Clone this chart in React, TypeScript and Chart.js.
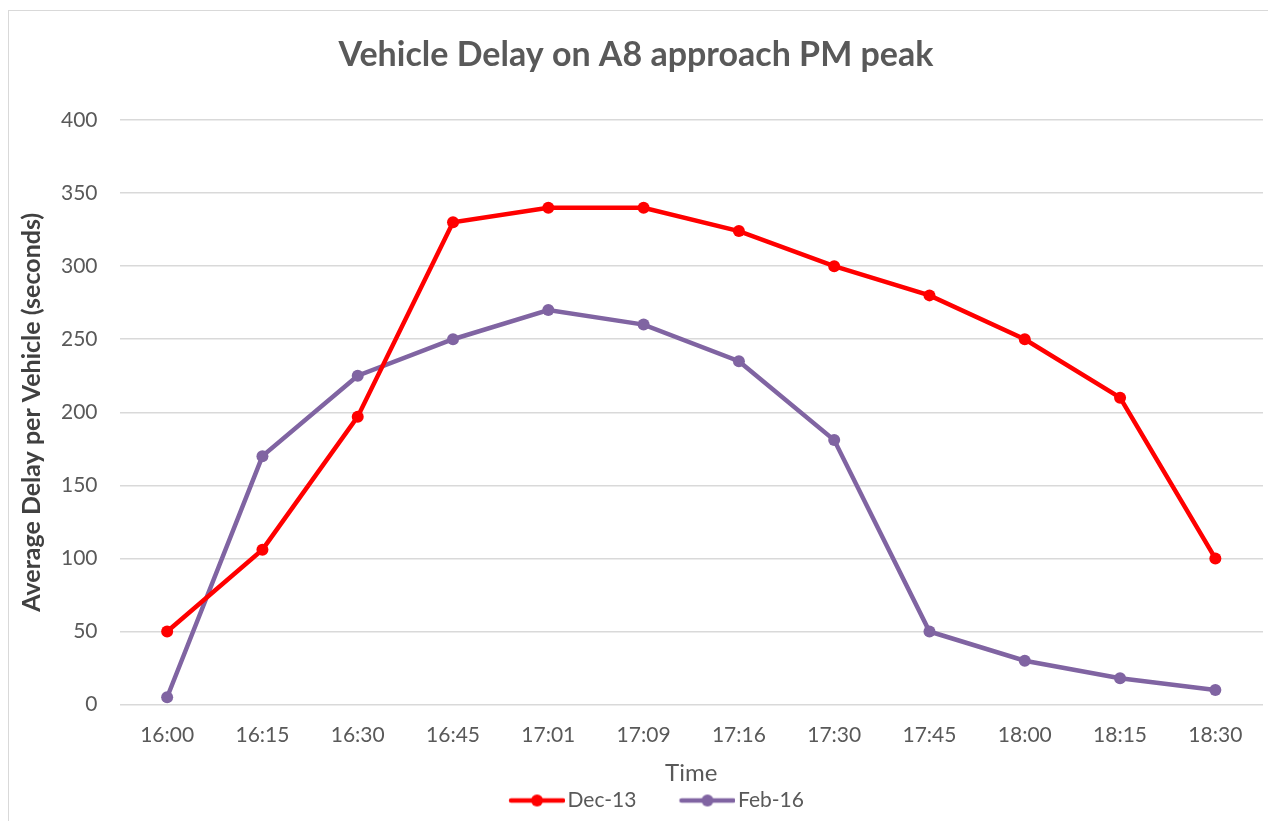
import { useEffect, useRef } from "react";
import { Chart, registerables } from "chart.js";

Chart.register(...registerables);

const categories = ["16:00", "16:15", "16:30", "16:45", "17:01", "17:09", "17:16", "17:30", "17:45", "18:00", "18:15", "18:30"];
const dec13 = [50, 106, 197, 330, 340, 340, 324, 300, 280, 250, 210, 100];
const feb16 = [5, 170, 225, 250, 270, 260, 235, 181, 50, 30, 18, 10];
const seriesNames = ["Dec-13", "Feb-16"];
const seriesColors = ["#FF0000", "#8064A2"];
const yMin = 0;
const yMax = 400;
const yStep = 50;

const FONT = "Lato, 'Open Sans', sans-serif";
const GREY = "#595959";

function makeLegendIcon(color: string, gapLeft: number): HTMLCanvasElement {
  const w = 56 + gapLeft;
  const h = 14;
  const c = document.createElement("canvas");
  c.width = w;
  c.height = h;
  const ctx = c.getContext("2d")!;
  ctx.strokeStyle = color;
  ctx.fillStyle = color;
  ctx.lineWidth = 4.5;
  ctx.lineCap = "round";
  ctx.beginPath();
  ctx.moveTo(gapLeft + 2, 7);
  ctx.lineTo(w - 2, 7);
  ctx.stroke();
  ctx.beginPath();
  ctx.arc(gapLeft + 28, 7, 6, 0, Math.PI * 2);
  ctx.fill();
  return c;
}

export default function App() {
  const ref = useRef<HTMLCanvasElement | null>(null);

  useEffect(() => {
    if (!ref.current) return;
    const gapLeft = 49;
    const icons = seriesColors.map((c) => makeLegendIcon(c, gapLeft));
    const chart = new Chart(ref.current, {
      type: "line",
      data: {
        labels: categories,
        datasets: [dec13, feb16].map((d, i) => ({
          label: seriesNames[i],
          data: d,
          borderColor: seriesColors[i],
          backgroundColor: seriesColors[i],
          borderWidth: 4.5,
          pointRadius: 6,
          pointHoverRadius: 6,
          pointBackgroundColor: seriesColors[i],
          pointBorderWidth: 0,
          tension: 0,
          fill: false,
        })),
      },
      options: {
        responsive: false,
        animation: false,
        devicePixelRatio: 1,
        layout: { padding: { left: 0, right: 6, top: 0, bottom: 0 } },
        plugins: {
          title: {
            display: true,
            text: "Vehicle Delay on A8 approach PM peak",
            color: GREY,
            font: { family: FONT, size: 34, weight: "bold" },
            padding: { top: 23.6, bottom: 44.6 },
          },
          legend: {
            display: true,
            position: "bottom",
            labels: {
              usePointStyle: true,
              pointStyleWidth: 56 + gapLeft - 16,
              boxHeight: 14,
              color: GREY,
              font: { family: FONT, size: 21 },
              padding: 2,
              generateLabels: (ch: any) => {
                const base = Chart.defaults.plugins.legend.labels.generateLabels(ch);
                return base.map((it: any, i: number) => ({ ...it, pointStyle: icons[i], lineWidth: 0 }));
              },
            },
          },
          tooltip: { enabled: false },
        },
        scales: {
          x: {
            offset: true,
            grid: { display: false, drawTicks: false },
            border: { display: false },
            ticks: { color: GREY, font: { family: FONT, size: 21 }, padding: 18.4, maxRotation: 0 },
            title: {
              display: true,
              text: "Time",
              color: GREY,
              font: { family: FONT, size: 24 },
              padding: { top: 0, bottom: 0 },
            },
            afterFit: (scale: any) => {
              scale.height = 83.4;
            },
          },
          y: {
            min: yMin,
            max: yMax,
            ticks: { stepSize: yStep, color: GREY, font: { family: FONT, size: 21 }, padding: 22 },
            grid: { color: "#D9D9D9", lineWidth: 1.5, drawTicks: false },
            border: { display: false },
            title: {
              display: true,
              text: "Average Delay per Vehicle (seconds)",
              color: "#404040",
              font: { family: FONT, size: 25, weight: "bold" },
              padding: { top: 8, bottom: 0 },
            },
            afterFit: (scale: any) => {
              scale.width = 110.5;
            },
          },
        },
      },
    });
    return () => chart.destroy();
  }, []);

  return (
    <div style={{ position: "fixed", inset: 0, overflow: "hidden", background: "#fff" }}>
      <div
        style={{
          position: "absolute",
          left: 8,
          top: 10,
          width: 1280,
          height: 840,
          border: "1px solid #D9D9D9",
          background: "#fff",
        }}
      >
        <canvas ref={ref} width={1260} height={810} style={{ display: "block", width: 1260, height: 810 }} />
      </div>
    </div>
  );
}
